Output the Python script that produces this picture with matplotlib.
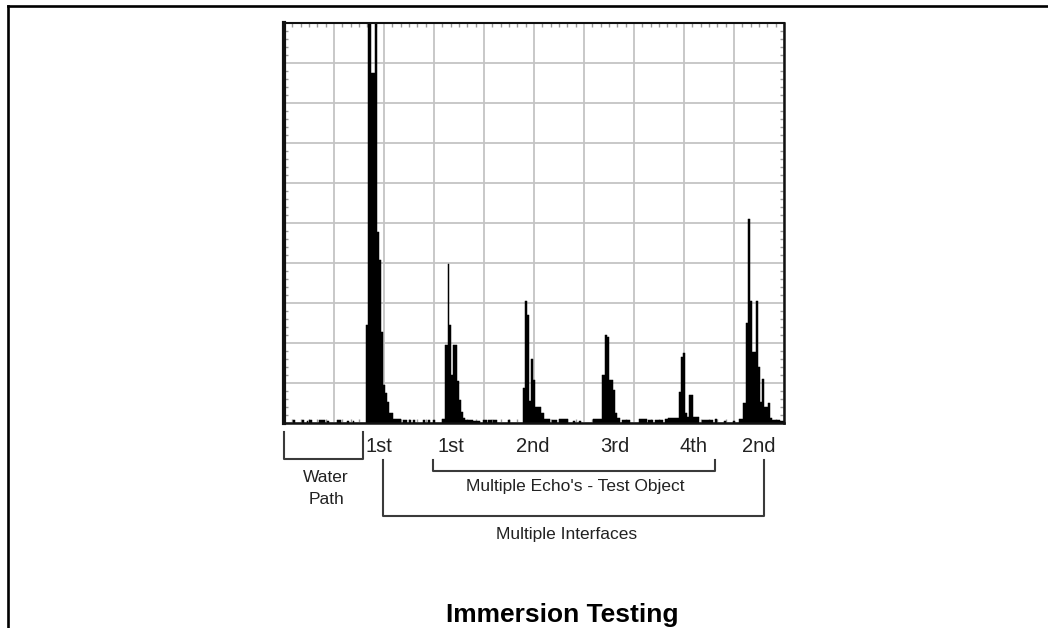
import matplotlib
matplotlib.use("Agg")
import matplotlib.pyplot as plt
from matplotlib.ticker import MultipleLocator

# ---- data: echo signal as (start, end, amplitude) segments, time in grid divisions ----
seg_start = [0.174, 0.354, 0.454, 0.506, 0.706, 0.854, 1.066, 1.266, 1.386,
             1.634, 1.674, 1.734, 1.826, 1.854, 1.894, 1.934, 1.974, 2.02, 2.06, 2.10, 2.18,
             2.386, 2.506, 2.586, 2.786, 2.886, 2.986,
             3.154, 3.22, 3.274, 3.30, 3.34, 3.38, 3.46, 3.50, 3.54, 3.58, 3.62,
             3.786, 3.986, 4.086, 4.186, 4.486,
             4.786, 4.826, 4.866, 4.906, 4.946, 4.986, 5.026, 5.146, 5.2,
             5.36, 5.506, 5.786, 5.906, 6.174,
             6.354, 6.426, 6.466, 6.506, 6.586, 6.626, 6.666,
             6.76, 7.106, 7.286, 7.42, 7.626, 7.68,
             7.906, 7.946, 7.986, 8.026, 8.066, 8.106, 8.186,
             8.354, 8.62, 8.8, 8.986,
             9.106, 9.186, 9.24, 9.28, 9.32, 9.36, 9.44, 9.48, 9.52, 9.56, 9.60, 9.68, 9.72, 9.76, 9.92]
seg_end = [0.22, 0.406, 0.474, 0.554, 0.82, 0.906, 1.134, 1.294, 1.406,
           1.674, 1.734, 1.826, 1.854, 1.894, 1.934, 1.974, 2.02, 2.06, 2.10, 2.18, 2.334,
           2.454, 2.534, 2.626, 2.826, 2.92, 3.02,
           3.22, 3.274, 3.30, 3.34, 3.38, 3.46, 3.50, 3.54, 3.58, 3.62, 3.78,
           3.92, 4.054, 4.154, 4.254, 4.52,
           4.826, 4.866, 4.906, 4.946, 4.986, 5.026, 5.146, 5.2, 5.32,
           5.454, 5.686, 5.82, 5.94, 6.354,
           6.426, 6.466, 6.506, 6.586, 6.626, 6.666, 6.72,
           6.92, 7.254, 7.386, 7.586, 7.68, 7.906,
           7.946, 7.986, 8.026, 8.066, 8.106, 8.186, 8.306,
           8.586, 8.666, 8.84, 9.02,
           9.186, 9.24, 9.28, 9.32, 9.36, 9.44, 9.48, 9.52, 9.56, 9.60, 9.68, 9.72, 9.76, 9.92, 10.0]
seg_amp = [0.08, 0.08, 0.06, 0.08, 0.08, 0.06, 0.08, 0.06, 0.06,
           2.45, 10.5, 8.75, 10.5, 4.78, 4.08, 2.28, 0.95, 0.75, 0.53, 0.25, 0.10,
           0.08, 0.08, 0.08, 0.08, 0.08, 0.08,
           0.10, 1.95, 3.97, 2.45, 1.20, 1.95, 1.05, 0.575, 0.28, 0.12, 0.08,
           0.06, 0.07, 0.07, 0.07, 0.07,
           0.88, 3.05, 2.70, 0.55, 1.60, 1.075, 0.41, 0.25, 0.10,
           0.08, 0.10, 0.06, 0.06, 0.10,
           1.20, 2.20, 2.16, 1.075, 0.825, 0.25, 0.12,
           0.08, 0.10, 0.08, 0.08, 0.10, 0.12,
           0.78, 1.66, 1.74, 0.25, 0.15, 0.70, 0.15,
           0.08, 0.10, 0.06, 0.06,
           0.10, 0.49, 2.49, 5.10, 3.05, 1.78, 3.05, 1.41, 0.53, 1.10, 0.41, 0.49, 0.12, 0.08, 0.05]

echo_labels = ["1st", "1st", "2nd", "3rd", "4th", "2nd"]
title = "Immersion Testing"

W, H = 1048, 628
plt.rcParams['font.family'] = ['Liberation Sans', 'DejaVu Sans']
fig = plt.figure(figsize=(W / 100, H / 100), dpi=100)
fig.patch.set_facecolor('white')

def px(x0, y0, x1, y1):
    return [x0 / W, 1 - y1 / H, (x1 - x0) / W, (y1 - y0) / H]

ax = fig.add_axes(px(284, 23, 784, 423))
ax.set_xlim(0, 10)
ax.set_ylim(0, 10)
widths = [e - s for s, e in zip(seg_start, seg_end)]
ax.bar(seg_start, seg_amp, width=widths, align='edge', color='black',
       edgecolor='black', linewidth=0.35, zorder=3)

ax.xaxis.set_major_locator(MultipleLocator(1))
ax.yaxis.set_major_locator(MultipleLocator(1))
ax.xaxis.set_minor_locator(MultipleLocator(1 / 6))
ax.yaxis.set_minor_locator(MultipleLocator(0.2))
ax.grid(True, which='major', color='#c4c4c4', linewidth=1.3, zorder=1)
ax.tick_params(which='major', length=0, labelbottom=False, labelleft=False)
ax.tick_params(which='minor', direction='in', length=3, width=1, color='#9a9a9a',
               top=True, right=True, bottom=True, left=True)
ax.set_axisbelow(True)
for side, lw in [('left', 3.0), ('bottom', 1.8), ('top', 1.5), ('right', 1.8)]:
    ax.spines[side].set_linewidth(lw)
    ax.spines[side].set_color('#111111')
    ax.spines[side].set_zorder(4)

# ---- overlay in pixel coordinates for annotations ----
ov = fig.add_axes([0, 0, 1, 1], facecolor='none')
ov.set_xlim(0, W)
ov.set_ylim(H, 0)
ov.axis('off')

# outer frame (left and top)
ov.plot([8, 8], [628, 6], color='black', lw=1.9, solid_capstyle='projecting')
ov.plot([8, 1048], [6, 6], color='black', lw=1.9, solid_capstyle='projecting')

bc = '#3a3a3a'
blw = 1.5
# Water path bracket
ov.plot([283.5, 283.5, 362.5, 362.5], [431.5, 458.5, 458.5, 431.5], color=bc, lw=blw)
# Multiple echoes bracket
ov.plot([432.5, 432.5, 715, 715], [459.5, 470.5, 470.5, 459.5], color=bc, lw=blw)
# Multiple interfaces bracket
ov.plot([382.5, 382.5, 763.5, 763.5], [460, 515.5, 515.5, 460], color=bc, lw=blw)

label_x = [379, 451, 533, 614.7, 693.3, 759]
for lx, lab in zip(label_x, echo_labels):
    ov.text(lx, 446, lab, ha='center', va='center', fontsize=14.5, color='#222222')

ov.text(326, 477, "Water", ha='center', va='center', fontsize=12.5, color='#222222')
ov.text(326, 500, "Path", ha='center', va='center', fontsize=12.5, color='#222222')
ov.text(575, 487, "Multiple Echo's - Test Object", ha='center', va='center',
        fontsize=12.5, color='#222222')
ov.text(567, 535, "Multiple Interfaces", ha='center', va='center', fontsize=12.5,
        color='#222222')
ov.text(562, 615, title, ha='center', va='center', fontsize=19, fontweight='bold',
        color='black')

fig.savefig('out.png', dpi=100, facecolor='white')
